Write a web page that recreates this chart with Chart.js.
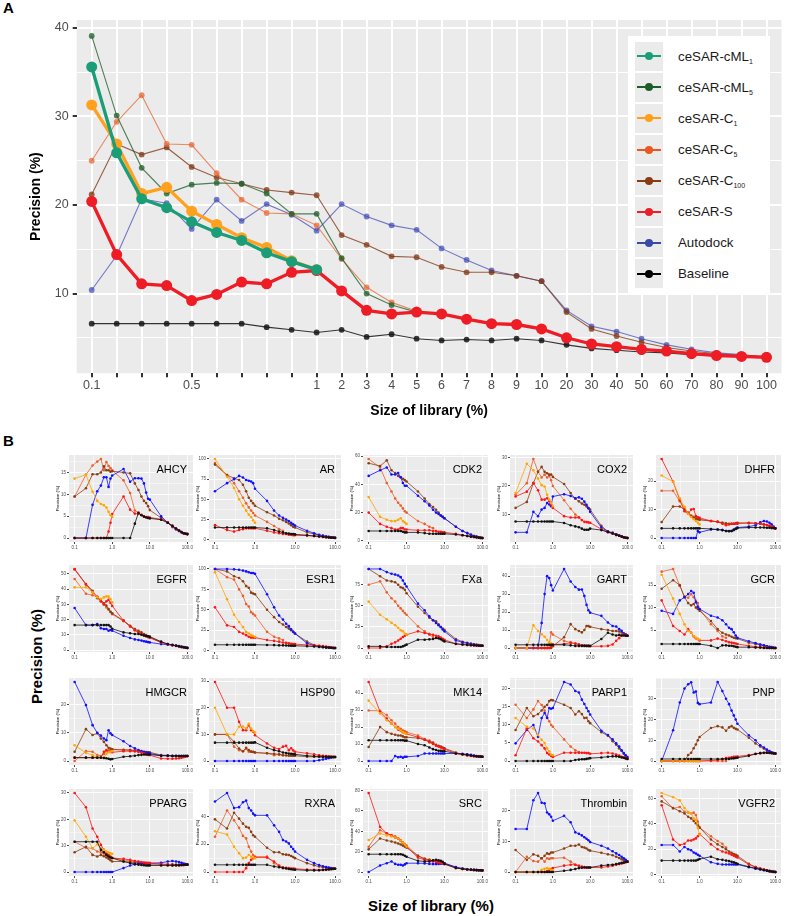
<!DOCTYPE html>
<html>
<head>
<meta charset="utf-8">
<script src="https://cdn.jsdelivr.net/npm/chart.js@4.4.0/dist/chart.umd.min.js"></script>
<style>
  body { margin:0; background:#fff; width:787px; height:916px; position:relative; overflow:hidden;
         font-family:"Liberation Sans", Arial, sans-serif; }
  canvas { position:absolute; }
  .lbl { position:absolute; font-weight:bold; color:#000; white-space:nowrap; }
  #legendA { position:absolute; left:628px; top:36px; width:142px; height:258px; background:#fff; }
  .key { position:absolute; left:7px; width:28px; height:29px; background:#ebebeb; }
  .key .ln { position:absolute; left:2px; width:24px; top:13.5px; height:2px; }
  .key .dot { position:absolute; left:10px; top:10.5px; width:8px; height:8px; border-radius:50%; }
  .ltxt { position:absolute; left:50px; font-size:13.3px; color:#1a1a1a; line-height:29px; }
  .ltxt sub { font-size:7px; vertical-align:-3px; }
</style>
</head>
<body>
<div class="lbl" style="left:3px;top:-1px;font-size:15px">A</div>
<div class="lbl" style="left:3px;top:432px;font-size:15px">B</div>
<canvas id="chartA" width="787" height="422" style="left:0;top:0"></canvas>
<div id="legendA"></div>
<div id="gridB"></div>
<div class="lbl" style="left:-24px;top:648px;width:120px;text-align:center;font-size:15px;transform:rotate(-90deg)">Precision (%)</div>
<div class="lbl" style="left:331px;top:897px;width:200px;text-align:center;font-size:15px">Size of library (%)</div>

<script>
// ---------- shared x values ----------
const sizes = [0.1,0.2,0.3,0.4,0.5,0.6,0.7,0.8,0.9,1,2,3,4,5,6,7,8,9,10,20,30,40,50,60,70,80,90,100];
const sizeTickLabels = ['0.1','','','','0.5','','','','','1','2','3','4','5','6','7','8','9','10','20','30','40','50','60','70','80','90','100'];
const precisionTicks = [5,10,15,20,25,30,35,40];

// ---------- panel A (mean precision) ----------
const cml1 = [35.6, 25.9, 20.7, 19.7, 18.1, 16.9, 16.0, 14.6, 13.6, 12.7];
const cml5 = [39.1, 30.1, 24.2, 21.3, 22.3, 22.5, 22.4, 21.3, 19.0, 19.0, 14.0, 10.0, 8.7, 7.9];
const c1 = [31.3, 26.9, 21.3, 22.0, 19.3, 17.8, 16.3, 15.2, 13.7, 12.7];
const c5 = [25.0, 29.4, 32.4, 26.9, 26.8, 23.6, 20.6, 19.1, 19.0, 17.7, 13.9, 10.7, 9.0, 8.0];
const c100 = [21.2, 26.9, 25.7, 26.5, 24.3, 23.1, 22.4, 21.7, 21.4, 21.1, 16.6, 15.5, 14.2, 14.1, 13.0, 12.4, 12.4, 12.0, 11.4, 7.9, 6.0, 5.2, 4.5, 3.9, 3.5, 3.2, 3.0, 2.8];
const cesarS = [20.4, 14.4, 11.1, 10.9, 9.2, 9.9, 11.3, 11.1, 12.4, 12.6, 10.3, 8.1, 7.7, 7.9, 7.7, 7.1, 6.6, 6.5, 6.0, 5.0, 4.3, 4.0, 3.7, 3.5, 3.2, 3.0, 2.9, 2.8];
const autodock = [10.4, 14.3, 20.7, 20.2, 17.3, 20.6, 18.2, 20.1, 18.9, 17.1, 20.1, 18.7, 17.7, 17.2, 15.1, 13.8, 12.6, 12.0, 11.4, 8.1, 6.3, 5.7, 4.9, 4.2, 3.7, 3.3, 3.1, 2.8];
const baseline = [6.6, 6.6, 6.6, 6.6, 6.6, 6.6, 6.6, 6.2, 5.9, 5.6, 5.9, 5.1, 5.4, 4.9, 4.7, 4.8, 4.7, 4.9, 4.7, 4.2, 3.8, 3.6, 3.4, 3.3, 3.1, 3.0, 2.9, 2.8];

// ---------- panel B (per target) ----------
const targets = ['AHCY','AR','CDK2','COX2','DHFR','EGFR','ESR1','FXa','GART','GCR',
                 'HMGCR','HSP90','MK14','PARP1','PNP','PPARG','RXRA','SRC','Thrombin','VGFR2'];
const targetTicks = [[0,5,10,15],[0,25,50,75,100],[0,20,40,60],[0,10,20,30],[0,10,20],
                     [0,10,20,30,40,50],[0,25,50,75,100],[0,25,50,75],[0,10,20,30,40],[0,5,10,15],
                     [0,10,20],[0,10,20,30],[0,10,20,30,40],[0,5,10,15,20],[0,10,20,30],
                     [0,10,20,30],[0,20,40],[0,20,40,60,80],[0,10,20],[0,20,40,60]];

const bAutodock = [
  [0,0,7.6,10.7,12,13.9,13.9,11.7,13.6,14.3,15.8,12.9,13.7,13.7,13.6,12.5,10.4,9,8.8,5,3.5,2.7,2,1.6,1.3,1.1,1,0.9],
  [60,70,75,79,77,74,73,72,70,63,48,36,30,27,25,23,21,19,17.5,11,8,6,5,4,3.5,3,2.6,2.3],
  [46,50,52,47,47,48,45,41,39,39,32,28,25,22,20,19,18,17,16,10,7,5.5,4.5,3.5,3,2.5,2.2,2],
  [3.7,3.7,10.9,9.4,11.7,12.3,14,13.5,12.9,16.3,17.1,16.5,15.7,16,15.5,14.5,13.4,12.2,10.9,5.4,4,3.5,3,2.6,2.3,2,1.8,1.7],
  [0,0,0,0,0,0,0,0,2.5,2,3,3,2.8,2.5,2.5,2.5,3,3.3,3.7,4,4.5,5.5,6,5.8,5.4,4.8,4,3.4],
  [27.6,16.4,16.4,17.1,14.3,13.8,13.8,12.7,13.2,12.7,9.4,7.9,7,6.6,6.2,5.8,5.5,5.2,5,3.9,3.5,3.2,2.9,2.6,2.3,2,1.8,1.5],
  [100,100,99.5,99,98,97,96,95,95,94,69,53,43,38,33,30,26,23,21,9,6.4,5.2,4.5,4,3.7,3.5,3.3,3.2],
  [93.7,93.7,90,88,87,86,84,80,76,73,52.6,44.7,37.5,33,29.6,27,25,22,19.8,9,6.7,5.5,4.6,4,3.5,3.2,3,2.8],
  [0,0,0,0,14,30,40,39,35,32,44,37,34,32.5,32.6,29,24,21,19.7,17.9,14.2,12.3,12,10.5,9.6,8,7.5,6.8],
  [9.3,8.6,11.6,12.3,13,13.7,13.3,11.2,10.2,9.7,8.2,7.8,7.2,6.3,5.5,5.2,4.5,3.8,3.3,2.5,2.1,1.8,1.6,1.4,1.3,1.2,1.1,1],
  [28,19.8,12.7,10,9,8,7.4,10.9,9.8,9.2,7,5.3,4.5,3.9,3.5,3.2,3,2.9,2.7,1.9,1.9,1.8,1.8,1.8,1.8,1.8,1.8,1.8],
  [0,0,0,0,0,0,0,0,0,0,0,0,0,0,0,0,0,0,0,0,0,0.3,0.6,0.9,1.1,1.3,1.4,1.5],
  [0,0,0,0,3,2.2,2.5,2,2.5,2.5,3,4.4,4.4,4.4,4.4,4.4,4.4,4.4,4.4,4.5,4.3,4,3.6,3.3,3,2.8,2.6,2.5],
  [4.9,8.6,10,6.7,11.9,13.3,11.9,14.7,14.5,14.7,21.9,21.2,19.4,19,17,15.8,14.7,13.8,12.9,8.4,7.2,6,4.9,4,3,2.2,1.6,1.1],
  [0,14.8,28.2,34.9,37,37.9,33,33.5,28,27.4,28.2,38.1,33.7,30,27.4,24.3,22,20,18,12.4,10,7.6,6.5,5.5,4.8,4.2,3.8,3.6],
  [0,0,0,0,0,0,0,0,0,0,1.5,2.5,3,3.2,3.3,3.4,3.4,3.4,3.4,3.5,4,4.2,4,3.8,3.5,3.2,3,2.8],
  [50.7,56.9,46,46.7,50.2,51.4,46,44.3,42,40.8,40.8,33.6,28.9,23,22,20.6,18.2,16.5,14.7,8.8,6.4,5,4.2,3.6,3.2,2.8,2.6,2.4],
  [0,6.5,8.7,10.4,8,7.1,7.1,6.5,7.5,8.7,8.7,8.5,8,7.8,7.8,8,8.2,8.5,8.7,5,3.5,2.8,2.4,2.1,1.9,1.8,1.7,1.6],
  [14.1,14.1,23.5,25.9,22.7,22.5,19.5,18.9,18.1,16.8,18.4,16.3,13,12.5,12,11.4,10.9,10.4,9.8,8.6,7.7,6.8,6.1,5.6,5,4.5,4,3.4],
  [23.3,23.3,18.1,21.7,19.9,19.1,17.3,16.5,15.5,14.7,9.6,8.3,7.8,7.8,7.8,7.8,7.8,7.8,7.8,5.7,4.5,3.8,3.2,2.8,2.4,2.1,1.9,1.8]
];
const bC1 = [
  [13.6,14.5,10.6,8.5,7.8,7.5,7.0,6.0,5.2,4.8],
  [100,78,64,50,42,36,31,28,24,21],
  [31,17,15,14,14,15,16,14,13,12],
  [17.5,27.8,25.5,22.6,20.3,19.8,16.9,15.2,14,12.9],
  [22,19.8,14,11,8.5,7.4,6.6,6,5.4,4.8],
  [41.2,41.2,38,34.6,33.5,34.6,35.3,35.1,33.5,31.4],
  [96,63,44,35,29,23,21,19,18,17],
  [55,39.5,34,30,27,24,21,19.8,17,15.8],
  [0,0,12.7,9.5,7.7,6.3,4.5,3,2.5,2],
  [17.3,12,8.6,6.3,4.8,4.4,3.6,3.3,3,2.9],
  [5.6,2.9,2.1,1.5,1.2,1.2,2.5,3.1,3.3,3.5],
  [20,10,10,12.9,13,12.2,14,12.2,11.2,10.7],
  [35.5,28,24,22,20,19,18,17,16.5,16],
  [11.9,9.5,9,7.2,5.9,5,3.5,2.7,1.8,1.6],
  [0,0,0,0,0,0,0,0,0,0],
  [19.6,13.4,9,10.5,9,8.4,7.8,7.4,7.1,6.9],
  [29.4,27,18.2,13.5,10,10.4,12.3,11,10.5,10],
  [31.4,37.9,36,35,34,33,31,29,27,25],
  [0,0,0,0,0.7,1.1,1.3,1.1,0.7,0.4],
  [64.6,61.2,58.7,52.7,49.6,48.3,44.4,43.2,36.7,31.5]
];
const bC5 = [
  [9.5,14.5,16.6,17.5,18.1,15.5,17.4,16.5,16.0,15.5,13.2,10.3,6.3,5.8],
  [95,80,70,60,52,45,40,36,33,30,22,17,13,11],
  [58,52,41,35,30,27,25,23,21,20,14,12,10,9],
  [16.9,21,29.5,25,23,24,23,23.5,22,20,15,12,10,9],
  [16.6,16.6,12.9,10.6,8.9,7.9,7.5,7.1,6.8,6.6,6,5.7,5.4,4.8],
  [46.7,37,36,35,32,30,28,26.5,25,23.5,19,15.5,13,12],
  [100,90,87,75,67,57,54,47,45,43,23,17,15,13],
  [75,79,66,59,55,50,47,44,41.5,39.5,25.7,19.8,15.8,13],
  [0,0,0,0,0,0,0,2,8.7,7.5,4,3,2.5,2],
  [18,18.6,14.8,12.5,12.2,13,12.3,11.5,11,9.7,6.3,4.8,3.6,3.3],
  [0,3.5,3.3,2.1,1.8,2.5,3.5,3.8,3.9,4,4,3.9,3.7,3.5],
  [10,10,5.4,4.1,3.7,4.5,3.5,3.7,3.5,3.2,2.9,2.2,2.5,2.2],
  [29.7,29.5,27,24,22,20,19,18,17.5,17,15,13,12,11],
  [15.6,11.9,14.3,16.6,15.5,14,12,11,10,9.5,6,4,3,2.5],
  [0,0,0,0,0,0,0,0,0,0,0,0,0,0],
  [11.5,9.2,9,7.8,7.5,7,6.5,6,5.5,5.3,4.6,4.2,4,3.8],
  [25.4,44.3,37.2,31.8,26,24.2,18.2,14.7,12.3,11.1,11.1,6.4,4,2.8],
  [24.9,41.1,38,36,35,33,31,29,27,26,16,13,12,11],
  [0,5,3.6,3.4,4.5,3.4,4.5,4.3,4.5,4.5,4.7,3.4,2.4,2.1],
  [62,52.2,53.5,49.6,49.1,48.3,49,47,41.9,37.2,30.2,26.4,24.3,21.2]
];
const bC100 = [
  [9.5,11.4,14.6,14.6,15.0,16.4,15.5,15.5,15.2,15.3,15.0,14.8,12.5,11.0,9.5,8.5,8.0,7.3,6.4,4.6,3.5,2.5,2.0,1.6,1.3,1.1,1.0,0.9],
  [93,80,76,74,68,60,52,48,45,42,34,30,26,24,22,20,18,16,15,9,7,5.5,4.5,3.8,3.2,2.8,2.6,2.5],
  [55,53,57,50,48,46,45,44,43,42,35,30,26,24,22,20,18,17,16,10,7,5.5,4,3.5,3,2.5,2.2,2],
  [12.3,14.4,21,25,26.7,25,24.5,24,24,23.2,20.7,17.5,15.5,14.6,13.8,13.4,12.8,12.2,11.7,6,4,3.5,3,2.6,2.3,2,1.8,1.7],
  [5.6,11.1,11.1,10,8.9,7.7,7.1,6.8,6.6,6.4,6,5.7,5.4,5.2,5,5,5,5.2,5.4,5.2,5.2,5,4.8,4.6,4.3,4,3.7,3.4],
  [53.3,43.4,39,34,33,30.7,29.2,27,25.2,24.1,19.3,16,13.8,12.7,11.6,10.5,9.8,9,8.3,5,3.9,3.3,2.8,2.4,2,1.8,1.5,1.3],
  [100,97,91,89,85,79,77,71,70,69,50,41,35,32,29,27,25,23,21,11,7,5.6,4.8,4.2,3.8,3.5,3.3,3.2],
  [93.7,85,80,79,78,75,72,71,69,65,49,41.5,36,33,31.6,28,25,23,21.7,10.7,7.5,6.2,5.2,4.5,4,3.5,3.1,2.8],
  [0,0,0,0,0,0,0,0,0,1,6,13.3,10.5,9.5,8.7,10,12.3,12.2,11.8,10.5,10,9.5,9.5,9.2,8.7,8,7.5,6.8],
  [14.2,16.1,15,12.3,11,10.5,10.8,10,9.7,9.3,7,5.2,4.4,4,3.8,3.5,3.3,3.2,3.1,2.2,1.9,1.7,1.5,1.4,1.2,1.1,1,1],
  [3.3,11.3,9.2,9.8,8,6.8,5.6,4.7,4.4,4.2,3.9,3.9,3.7,3.5,3.4,3.3,3.2,3.1,3.1,2.1,2,1.9,1.9,1.8,1.8,1.8,1.8,1.8],
  [10,10,7.2,4.7,3.7,5,4.1,3.5,3.4,3.2,2.9,2.7,2.5,2.2,2.1,2,2,2,2,1.6,1.6,1.5,1.5,1.5,1.5,1.5,1.5,1.5],
  [8.3,20,17,16,15.5,15,15,14.5,14,14,13.5,12.5,11.5,10.5,9.5,9,8.5,8,7.5,5,4,3.5,3.2,3,2.8,2.7,2.6,2.5],
  [8.6,14.7,12.4,13,14,15,15.5,16.6,16.9,16.8,15.6,14.7,12.9,13.8,13,11.9,12,11,10.5,8,7,5.5,4.5,3.5,2.8,2,1.4,0.8],
  [0,0,0,0,2.9,4,6.2,8,10,11.6,15.9,16.8,16.2,14.6,16.2,16.8,16,15.5,15.2,11.2,8.5,7,6,5,4.5,4,3.8,3.6],
  [7.5,9.6,6.5,5.9,6.5,6,5.5,5,4.5,4,4,3.8,3.6,3.5,3.4,3.3,3.2,3.1,3,3,2.9,2.9,2.8,2.8,2.8,2.8,2.8,2.8],
  [37.9,31.3,42.7,38.4,34.8,32.5,31.8,28.9,26.5,25.4,17.5,14.2,14.2,12.8,12.5,12.3,11.5,10.8,10,6.4,4.8,4,3.5,3.1,2.8,2.6,2.5,2.4],
  [22.3,33,31,30,29,28,27,26,25,24,16,13,12,11,10.5,10,9.5,9,8.5,4.5,3.2,2.7,2.3,2.1,1.9,1.8,1.7,1.6],
  [7.2,4,5.8,5.3,4.5,5.3,6.1,5.9,6.4,6.4,7.7,8.6,8.6,9,8.2,8,7.7,7.2,7,6.3,5.8,5.5,5,4.6,4.2,3.9,3.6,3.4],
  [57.9,52.7,50.1,48.3,45.7,44.4,42.4,40.6,38.8,37.2,27.6,23.8,21.7,19.9,18.1,17,16,15.5,14.7,8.3,5.7,4.5,3.8,3.2,2.7,2.3,2,1.8]
];
const bS = [
  [0,0,0,0,0,0,0,1.5,3.5,5.5,9.5,6.5,5.6,5.5,5.3,5.0,4.8,4.8,4.7,4.3,3.6,2.8,2.2,1.7,1.4,1.1,1.0,0.9],
  [18,12,10,12,13,14,14,14,14,14,11,9,8,7,7,6,6,5.5,5.5,5,4.5,4,3.5,3,2.8,2.5,2.3,2],
  [20,12,10,9,8,8,9,9,8,8,7.5,7.5,7.5,7,7,6.5,6.5,6,6,5,4,3.5,3,2.8,2.5,2.3,2.1,2],
  [16.3,18,21,18.5,15.2,15.2,15.7,14.6,13.5,12.3,9.4,8.9,8.9,8.9,8.0,7.4,7.3,7.2,7.1,4.8,3.7,3.3,2.8,2.5,2.2,2,1.8,1.7],
  [27.8,19.8,13.4,9.4,8.5,10,10.2,7.7,7.3,7.1,6,5.7,5,4.5,4.8,5,5,5,5,5.4,5.2,5,4.8,4.6,4.3,4,3.7,3.4],
  [53,43,38,35,32,30,32,33,31,29,19.3,15.5,13,11.5,10.5,9.5,9,8.5,8,5,3.8,3.2,2.7,2.3,2,1.7,1.5,1.3],
  [53,31,29,23,21,19,17,16,16,16,13,12,11,10,9.5,9,8.5,8.2,8,7,6.5,6,5.5,5,4.5,4,3.6,3.2],
  [0,0,2,5,6.7,9,11,13,14.6,15.8,19.8,17.8,16.5,15.8,14.5,13.8,12.5,11,9.9,5,4.2,3.8,3.5,3.2,3,2.9,2.8,2.8],
  [0,0,0,0,0,0,0,0,1,2,2.2,3,2.5,2,1.5,1.5,1.2,1.2,1,1,1.2,2,4,5.5,7,7.5,7.2,6.8],
  [11.6,5.9,4.8,4,5.2,4.4,3.6,3.2,3,2.7,2.7,3.1,2.8,2.5,2.3,2.2,2.1,2,1.9,1.5,1.3,1.2,1.1,1.1,1,1,1,1],
  [1.2,1.2,1.2,1.2,1.2,3.3,3.9,3.3,3.2,3.1,3.5,3.5,3.4,3.3,3,2.7,2.4,2.2,2.1,0.9,0.8,0.8,0.9,1,1.2,1.4,1.6,1.8],
  [29.7,20,20,14.7,11.6,11.6,13.5,11.6,11,9.7,6.6,5,4.5,5.4,5.7,4.1,4.8,4,3.5,2.9,2.5,2.2,2,1.9,1.8,1.7,1.6,1.5],
  [46.5,29,25,22,20,18.5,18,17,16.5,16,14,12.5,11,10,9,8.5,8,7.5,7,4.5,3.8,3.3,3,2.8,2.7,2.6,2.5,2.5],
  [1.6,9,6.3,5.4,4.4,3.5,2.2,1.8,1.4,1.1,2.3,2.3,2.3,2.3,2.3,2.3,2.2,2.2,2,2.2,2.3,2.1,1.8,1.5,1.2,1,0.8,0.6],
  [0,0,0,0,0,0,0,0,0,0,0.3,0.5,1,1.4,1.6,1.8,2,2,2.2,2.9,3.5,3.8,3.9,4,4,3.9,3.7,3.6],
  [30,24.6,16.5,13.4,10.3,8.4,7.1,6.5,5.9,5.3,5,4.6,4.2,4,3.8,3.6,3.5,3.4,3.4,3,2.8,2.6,2.5,2.5,2.6,2.7,2.8,2.8],
  [0,0,0,0,0,2.8,6.4,8.8,10,10.4,10.4,7.6,4.7,3.3,3,2.8,2.6,2.5,2.4,1.8,1.6,1.5,1.6,1.8,2,2.2,2.3,2.4],
  [77.7,44.3,38,36,34,33,31,29,27,25,14.2,12,11,10.4,10,9.5,9,8.5,7.8,3.9,3,2.5,2.2,2,1.9,1.8,1.7,1.6],
  [0,0,0,0,0,0,0.3,0.6,1,1.3,2.1,2.4,2.4,2,1.8,1.6,1.5,1.5,1.5,1.5,1.8,2.1,2.4,2.6,2.8,3,3.2,3.4],
  [54.8,27.6,23.3,24.3,26.9,26.9,27.6,28.5,30.2,32,23.8,19.9,18.1,17.3,16.5,15.5,14.8,14,13.4,7.8,5.7,4.5,3.7,3.1,2.6,2.2,2,1.8]
];
const bBaseline = [
  [0,0,0,0,0,0,0,0,0,0,0,0,3.3,5.8,5.2,4.9,4.7,4.6,4.5,4.2,3.5,2.8,2.2,1.7,1.4,1.1,1.0,0.9],
  [15,15,15,15,15,15,15,15,15,15,14,12,10,9,8,7.5,7,7,6.5,5.5,4.5,4,3.5,3,2.8,2.5,2.3,2],
  [7,7,7,7,7,7,7,6.5,6,6,6,5.5,5,5,5,5,5,5,5,4.5,4,3.5,3,2.8,2.5,2.3,2.1,2],
  [7.5,7.5,7.5,7.5,7.5,7.5,7.5,7.5,7.5,7.5,7,6.2,5.8,5.5,5.0,4.6,4.6,4.6,5,4.5,3.8,3.3,2.8,2.5,2.2,2,1.8,1.7],
  [3.4,3.4,3.4,3.4,3.4,3.4,3.4,3.4,3.4,3.4,3.2,3,2.8,2.5,2.4,2.5,2.8,3.2,3.5,3.7,3.7,3.7,3.7,3.6,3.6,3.5,3.5,3.4],
  [16.4,16.4,16.4,16.4,16.4,16.4,16.4,16.4,15.5,14,11.6,11,10.5,10.5,10,9.5,9.2,9,8.8,5.5,4,3.3,2.8,2.4,2,1.8,1.5,1.3],
  [7.2,7.2,7.2,7.2,7.2,7.2,7.2,7.2,7.2,7.2,7,6.8,6.5,6.5,6.3,6.2,6,6,6,5.5,5,4.6,4.3,4,3.8,3.5,3.3,3.2],
  [2,2,1.2,1.2,1.2,1.2,1.2,2,3,4,9.9,9.9,10.3,10.7,11.9,11.5,10.5,9,7.9,5,4.2,3.7,3.4,3.2,3,2.9,2.8,2.8],
  [1.8,1.8,1.8,1.8,1.8,1.8,1.8,1.8,1.8,1.8,1.8,1.5,1.2,1.2,1.2,1.2,1.2,1.2,1.2,5,8.5,7.5,7,7.3,7,7,6.9,6.8],
  [1.9,1.9,1.9,1.9,1.9,1.9,1.9,1.9,1.9,1.9,1.5,1,1.6,1.6,1.5,1.5,1.4,1.3,1.2,1.2,1.1,1.1,1,1,1,1,1,1],
  [1.2,1.2,1.2,1.2,1.2,1.1,1,0.8,0.6,0.7,1.5,1.7,1.9,2.1,2.2,2.3,2.3,2.3,2.3,1.9,1.9,1.8,1.8,1.8,1.8,1.8,1.8,1.8],
  [6.9,6.9,6.9,6.9,6.9,6.9,6.9,6.9,6.9,7,5,4.1,3.7,3.2,3,2.8,2.7,2.6,2.5,2,1.8,1.7,1.6,1.6,1.5,1.5,1.5,1.5],
  [12.2,12.2,12.2,12.2,12.2,12.2,12.2,12.2,12,12,10,9.3,8,7,6.5,6,6,5.8,5.8,4.4,4,3.6,3.3,3,2.8,2.7,2.6,2.5],
  [0,0,0,0,0,0,0,0,0,0,0,0,0.3,0.4,0.5,0.5,0.6,0.7,0.8,1,1.2,1.3,1.3,1.2,1,0.9,0.7,0.6],
  [1,1,1,1,1,1,1,1,1,1,1,1,1,1,1,1.2,1.3,1.5,1.6,2.5,3.4,3.8,4,4,3.9,3.8,3.7,3.6],
  [11.5,11.5,11.5,11.5,8.4,7.5,6.5,5.9,5.5,5.3,4,3.4,3,2.8,2.7,2.6,2.5,2.5,2.5,2.5,2.5,2.5,2.6,2.6,2.7,2.7,2.8,2.8],
  [5.2,5.2,5.2,5.2,5.2,5.2,5.2,5.2,5.2,5.2,5.2,4,3.5,3,2.5,2.2,2,1.8,1.7,1.2,1.2,1.3,1.5,1.7,1.9,2.1,2.3,2.4],
  [17.5,17.5,17.5,17.5,17.5,17.5,17.5,17,16,15,11,10.4,10.4,11.5,12,11.5,11,10,8,4,3,2.5,2.2,2,1.9,1.8,1.7,1.6],
  [0,0,0,0,0,0,0,0,0,0,0.4,0.7,1,1.3,1.4,1.5,1.5,1.5,1.5,2.1,2.3,2.4,2.6,2.8,3,3.1,3.3,3.4],
  [10.9,10.9,10.9,10.9,10.9,10.9,10.9,10.9,11.5,12.1,14,12,11.5,10.9,10.5,10,9.5,9,8.3,6,4.8,4,3.4,2.9,2.5,2.2,2,1.8]
];

Chart.defaults.font.family = "'Liberation Sans', Arial, sans-serif";

// grey panel background, like ggplot
const panelBg = {
  id: 'panelBg',
  beforeDraw(chart) {
    const a = chart.chartArea, ctx = chart.ctx;
    ctx.save();
    ctx.fillStyle = '#ebebeb';
    ctx.fillRect(a.left, a.top, a.right - a.left, a.bottom - a.top);
    ctx.restore();
  }
};

// ---------- panel A ----------
const seriesA = [
  { name: 'ceSAR-cML', sub: '1',   data: cml1,     key: '#1b9e77', color: '#1b9e77', thick: true,  order: 0 },
  { name: 'ceSAR-cML', sub: '5',   data: cml5,     key: '#1b5e2a', color: 'rgba(38,100,48,0.8)', thick: false, order: 3 },
  { name: 'ceSAR-C',   sub: '1',   data: c1,       key: '#ff9f1c', color: '#ffa11e', thick: true,  order: 2 },
  { name: 'ceSAR-C',   sub: '5',   data: c5,       key: '#e8581f', color: 'rgba(228,98,44,0.72)', thick: false, order: 4 },
  { name: 'ceSAR-C',   sub: '100', data: c100,     key: '#8b3a16', color: 'rgba(128,56,20,0.78)', thick: false, order: 5 },
  { name: 'ceSAR-S',   sub: '',    data: cesarS,   key: '#e8202a', color: '#ee1c25', thick: true,  order: 1 },
  { name: 'Autodock',  sub: '',    data: autodock, key: '#3949a8', color: 'rgba(60,70,180,0.7)', thick: false, order: 6 },
  { name: 'Baseline',  sub: '',    data: baseline, key: '#000000', color: 'rgba(20,20,20,0.85)', thick: false, order: 7 }
];

new Chart(document.getElementById('chartA'), {
  type: 'line',
  data: {
    datasets: seriesA.map(s => ({
      label: s.name + s.sub,
      data: s.data.map((v, i) => ({ x: i, y: v })),
      borderColor: s.color,
      backgroundColor: s.color,
      pointBackgroundColor: s.color,
      pointBorderWidth: 0,
      borderWidth: s.thick ? 3.3 : 1.1,
      pointRadius: s.thick ? 5.5 : 2.9,
      tension: 0,
      order: s.order
    }))
  },
  options: {
    responsive: false, animation: false, devicePixelRatio: 1,
    layout: { padding: { left: 22, right: 1, top: 20, bottom: 2 } },
    plugins: { legend: { display: false }, tooltip: { enabled: false } },
    scales: {
      x: {
        type: 'linear', min: -0.6, max: 27.6,
        afterBuildTicks: s => { s.ticks = sizes.map((_, i) => ({ value: i })); },
        ticks: { callback: v => sizeTickLabels[v], autoSkip: false, maxRotation: 0,
                 font: { size: 12.5 }, color: '#4d4d4d', padding: 1 },
        grid: { color: '#ffffff', lineWidth: 2, tickLength: 4, tickColor: '#333333' },
        border: { display: false },
        title: { display: true, text: 'Size of library (%)', color: '#000',
                 font: { size: 14, weight: 'bold' }, padding: { top: 9, bottom: 0 } }
      },
      y: {
        min: 1.0, max: 40.9,
        afterBuildTicks: s => { s.ticks = precisionTicks.map(v => ({ value: v })); },
        ticks: { callback: v => (v % 10 === 0 ? String(v) : ''), font: { size: 12.5 },
                 color: '#4d4d4d', padding: 4 },
        grid: {
          color: '#ffffff',
          lineWidth: c => (c.tick && c.tick.value % 10 === 0 ? 2 : 1),
          tickLength: 4,
          tickColor: c => (c.tick && c.tick.value % 10 === 0 ? '#333333' : 'rgba(0,0,0,0)')
        },
        border: { display: false },
        title: { display: true, text: 'Precision (%)', color: '#000',
                 font: { size: 14, weight: 'bold' }, padding: 6 }
      }
    }
  },
  plugins: [panelBg]
});

// legend for panel A (html so subscripts stay real text)
const legendA = document.getElementById('legendA');
seriesA.forEach((s, i) => {
  const top = 5.7 + i * 31.1;
  const key = document.createElement('div');
  key.className = 'key';
  key.style.top = top + 'px';
  key.innerHTML = '<div class="ln" style="background:' + s.key + '"></div>' +
                  '<div class="dot" style="background:' + s.key + '"></div>';
  legendA.appendChild(key);
  const t = document.createElement('div');
  t.className = 'ltxt';
  t.style.top = top + 'px';
  t.innerHTML = s.name + (s.sub ? '<sub>' + s.sub + '</sub>' : '');
  legendA.appendChild(t);
});

// ---------- panel B ----------
const seriesB = [
  { data: bBaseline, color: '#111111', order: 0 },
  { data: bC1,       color: '#ffa500', order: 1 },
  { data: bS,        color: '#ff1414', order: 2 },
  { data: bAutodock, color: '#1010ff', order: 3 },
  { data: bC100,     color: '#8b3e14', order: 4 },
  { data: bC5,       color: '#ec5e2b', order: 5 }
];
const colLeft = [69, 209, 363, 510, 656];
const colRight = [195, 343, 490, 635, 783];
const rowTop = [453, 563, 676, 787];
const plotH = 89, yAxisW = 15, xAxisH = 11, padTop = 2, padRight = 2;
const xMajors = [0.1, 1, 10, 100];
const xLabels = { 0.1: '0.1', 1: '1.0', 10: '10.0', 100: '100.0' };
const xMinors = [0.1, 0.316228, 1, 3.16228, 10, 31.6228, 100];

const gridB = document.getElementById('gridB');
targets.forEach((name, t) => {
  const col = t % 5, row = Math.floor(t / 5);
  const cv = document.createElement('canvas');
  const w = colRight[col] - colLeft[col] + yAxisW + padRight;
  const h = padTop + plotH + xAxisH;
  cv.width = w; cv.height = h;
  cv.style.left = (colLeft[col] - yAxisW) + 'px';
  cv.style.top = (rowTop[row] - padTop) + 'px';
  gridB.appendChild(cv);

  const all = seriesB.flatMap(s => s.data[t]);
  const lo = Math.min(...all), hi = Math.max(...all), ex = (hi - lo) * 0.05;
  const yMin = lo - ex, yMax = hi + ex;
  const majors = targetTicks[t];
  const step = majors[1] - majors[0];
  const yAll = [];
  for (let i = -1; i <= majors.length; i++) {
    const m = majors[0] + i * step;
    [m, m + step / 2].forEach(v => { if (v >= yMin && v <= yMax && !yAll.includes(v)) yAll.push(v); });
  }
  yAll.sort((a, b) => a - b);

  const titlePlugin = {
    id: 'targetTitle',
    afterDraw(chart) {
      const a = chart.chartArea, ctx = chart.ctx;
      ctx.save();
      ctx.font = "11px 'Liberation Sans', Arial, sans-serif";
      ctx.fillStyle = '#000';
      ctx.textAlign = 'right';
      ctx.textBaseline = 'alphabetic';
      ctx.fillText(name, a.right - 6, a.top + 17.5);
      ctx.restore();
    }
  };

  new Chart(cv, {
    type: 'line',
    data: {
      datasets: seriesB.map(s => ({
        data: s.data[t].map((v, i) => ({ x: sizes[i], y: v })),
        borderColor: s.color, backgroundColor: s.color, pointBackgroundColor: s.color,
        pointBorderWidth: 0, borderWidth: 0.8, pointRadius: 1.3, tension: 0, order: s.order
      }))
    },
    options: {
      responsive: false, animation: false, devicePixelRatio: 1,
      layout: { padding: { left: 0, right: padRight, top: padTop, bottom: 0 } },
      plugins: { legend: { display: false }, tooltip: { enabled: false } },
      scales: {
        x: {
          type: 'logarithmic', min: 0.1 / Math.pow(10, 0.15), max: 100 * Math.pow(10, 0.15),
          afterBuildTicks: s => { s.ticks = xMinors.map(v => ({ value: v })); },
          afterFit: s => { s.height = xAxisH; },
          ticks: { callback: v => xLabels[v] || '', autoSkip: false, maxRotation: 0,
                   font: { size: 4.5 }, color: '#4d4d4d', padding: 1 },
          grid: {
            color: '#ffffff',
            lineWidth: c => (c.tick && xMajors.includes(c.tick.value) ? 0.9 : 0.45),
            tickLength: 2,
            tickColor: c => (c.tick && xMajors.includes(c.tick.value) ? '#333333' : 'rgba(0,0,0,0)')
          },
          border: { display: false }
        },
        y: {
          min: yMin, max: yMax,
          afterBuildTicks: s => { s.ticks = yAll.map(v => ({ value: v })); },
          afterFit: s => { s.width = yAxisW; },
          ticks: { callback: v => (majors.includes(v) ? String(v) : ''), font: { size: 4.5 },
                   color: '#4d4d4d', padding: 1 },
          grid: {
            color: '#ffffff',
            lineWidth: c => (c.tick && majors.includes(c.tick.value) ? 0.9 : 0.45),
            tickLength: 2,
            tickColor: c => (c.tick && majors.includes(c.tick.value) ? '#333333' : 'rgba(0,0,0,0)')
          },
          border: { display: false },
          title: { display: true, text: 'Precision (%)', color: '#000', font: { size: 4.3 }, padding: 1 }
        }
      }
    },
    plugins: [panelBg, titlePlugin]
  });
});
</script>
</body>
</html>
